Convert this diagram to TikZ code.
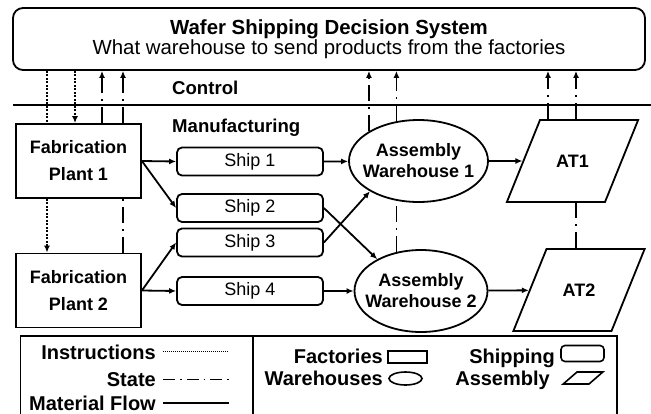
\documentclass[tikz,border=0pt]{standalone}
\usepackage{fontspec}
\setmainfont{Liberation Sans}
\usetikzlibrary{shapes.geometric,arrows.meta}

\begin{document}
\begin{tikzpicture}[x=1pt, y=-1pt,
    every node/.style = {inner sep=0pt},
    system/.style    = {draw, line width=1.8pt, rounded corners=10pt, align=center,
      minimum width=632pt, minimum height=62pt, font=\fontsize{20.4}{19}\selectfont},
    fab/.style       = {draw, fill=white, line width=1.8pt, align=center,
      minimum width=125pt, minimum height=74pt, font=\fontsize{18}{27}\selectfont\bfseries},
    ship/.style      = {draw, fill=white, line width=1.8pt, rounded corners=5pt,
      minimum width=146pt, minimum height=28pt, font=\fontsize{18}{21}\selectfont},
    warehouse/.style = {draw, fill=white, ellipse, line width=1.8pt, align=center,
      inner xsep=-20pt, minimum height=82pt, font=\fontsize{18}{21}\selectfont\bfseries},
    assembly/.style  = {draw, fill=white, trapezium, trapezium left angle=68,
      trapezium right angle=112, line width=1.8pt, align=center,
      text width=34pt, text height=13pt, text depth=0pt, inner xsep=15.5pt,
      inner ysep=34.5pt, font=\fontsize{18}{21}\selectfont\bfseries},
    layer/.style     = {anchor=base west, font=\fontsize{18.6}{20}\selectfont\bfseries},
    keytext/.style   = {anchor=base east, font=\fontsize{20}{24}\selectfont\bfseries},
    arr/.style       = {-{Latex[length=7pt,width=6pt]}},
    flow/.style      = {line width=1.8pt, arr},
    state/.style     = {line width=1.8pt, dash pattern=on 16pt off 6pt on 2pt off 6pt},
    instr/.style     = {line width=2pt, dash pattern=on 2pt off 1.5pt},
  ]
  \clip (0,0) rectangle (651,413);

  \node[system] (wsds) at (329,39) {\textbf{Wafer Shipping Decision System}\\
    What warehouse to send products from the factories};
  \draw[line width=1.8pt] (13,105) -- (651,105);
  \node[layer] (control) at (172,94) {Control};
  \node[layer] (manuf) at (172,132) {Manufacturing};

  \node[fab] (plant1) at (78.5,161) {Fabrication\\Plant 1};
  \node[fab] (plant2) at (78.5,290.5) {Fabrication\\Plant 2};
  \node[ship] (ship1) at (250,161.5) {Ship 1};
  \node[ship] (ship2) at (250,208) {Ship 2};
  \node[ship] (ship3) at (250,242.5) {Ship 3};
  \node[ship] (ship4) at (250,291) {Ship 4};
  \node[warehouse, minimum width=139pt] (wh1) at (418.5,161) {Assembly\\Warehouse 1};
  \node[warehouse, minimum width=133pt] (wh2) at (421,291) {Assembly\\Warehouse 2};
  \node[assembly] (at1) at (572.5,161) {AT1};
  \node[assembly] (at2) at (579,290) {AT2};

  \draw[flow] (plant1.east) -- (ship1.west);
  \draw[flow] (plant1.east) -- (ship2.west);
  \draw[flow] (plant2.east) -- (ship3.west);
  \draw[flow] (plant2.east) -- (ship4.west);
  \draw[flow] (ship1.east) -- (wh1);
  \draw[flow] (ship2.east) -- (wh2.144);
  \draw[flow] (ship3.east) -- (wh1.212);
  \draw[flow] (ship4.east) -- (wh2);
  \draw[flow] (wh1) -- (at1);
  \draw[flow] (wh2) -- (at2);

  \coordinate (in1) at ([xshift=-31.5pt]plant1.north);
  \coordinate (in2) at ([xshift=-3.5pt]plant1.north);
  \coordinate (st1) at ([xshift=23.5pt]plant1.north);
  \coordinate (st2) at ([xshift=44.5pt]plant1.north);
  \coordinate (as1) at ([xshift=-24.5pt]at1.north);
  \coordinate (as2) at ([xshift=3.5pt]at1.north);

  \draw[instr] (in1 |- wsds.south) -- (in1);
  \draw[instr, arr] (in1 |- plant1.south) -- (in1 |- plant2.north);
  \draw[instr, arr] (in2 |- wsds.south) -- (in2);
  \draw[state, arr] (st1) -- (st1 |- wsds.south);
  \draw[state, arr] (st2) -- (st2 |- wsds.south);
  \draw[state] (st2 |- plant2.north) -- (st2 |- plant1.south);
  \draw[state, arr] (wh1.149) -- (wh1.149 |- wsds.south);
  \draw[state, arr] (wh1.119) -- (wh1.119 |- wsds.south);
  \draw[state] (wh2.122) -- (wh2.122 |- wh1.241);
  \draw[state, arr] (as1) -- (as1 |- wsds.south);
  \draw[state, arr] (as2) -- (as2 |- wsds.south);
  \draw[state] (as2 |- at2.north) -- (as2 |- at1.south);

  \draw[line width=1.2pt] (20.7,336) rectangle (617,430);
  \draw[line width=1.2pt] (253,336) -- (253,430);
  \node[keytext] (lginstr) at (156,359) {Instructions};
  \node[keytext] (lgstate) at (156,386.5) {State};
  \node[keytext] (lgflow) at (156,410) {Material Flow};
  \draw[line width=0.8pt, dash pattern=on 1pt off 1pt] ([xshift=7pt]lginstr.east) -- ++(66,0);
  \draw[line width=1.3pt, dash pattern=on 12pt off 5pt on 1.5pt off 5pt] ([xshift=7pt]lgstate.east) -- ++(66,0);
  \draw[line width=2pt] ([xshift=7pt]lgflow.east) -- ++(66,0);
  \node[keytext] (lgfab) at (383,363) {Factories};
  \node[keytext] (lgwh) at (383,385) {Warehouses};
  \node[keytext] (lgship) at (555,363) {Shipping};
  \node[keytext] (lgasm) at (550,385) {Assembly};
  \node[draw, line width=1.6pt, minimum width=39pt, minimum height=12pt] (keyfab) at (407.5,357) {};
  \node[draw, ellipse, line width=1.6pt, minimum width=33pt, minimum height=13pt] (keywh) at (405.5,378.5) {};
  \node[draw, rounded corners=4pt, line width=1.6pt, minimum width=43pt,
    minimum height=16pt] (keyship) at (582.5,353.5) {};
  \node[draw, trapezium, trapezium left angle=41, trapezium right angle=139,
    line width=1.6pt, inner xsep=6pt, inner ysep=6pt] (keyasm) at (583,378) {};
\end{tikzpicture}
\end{document}
